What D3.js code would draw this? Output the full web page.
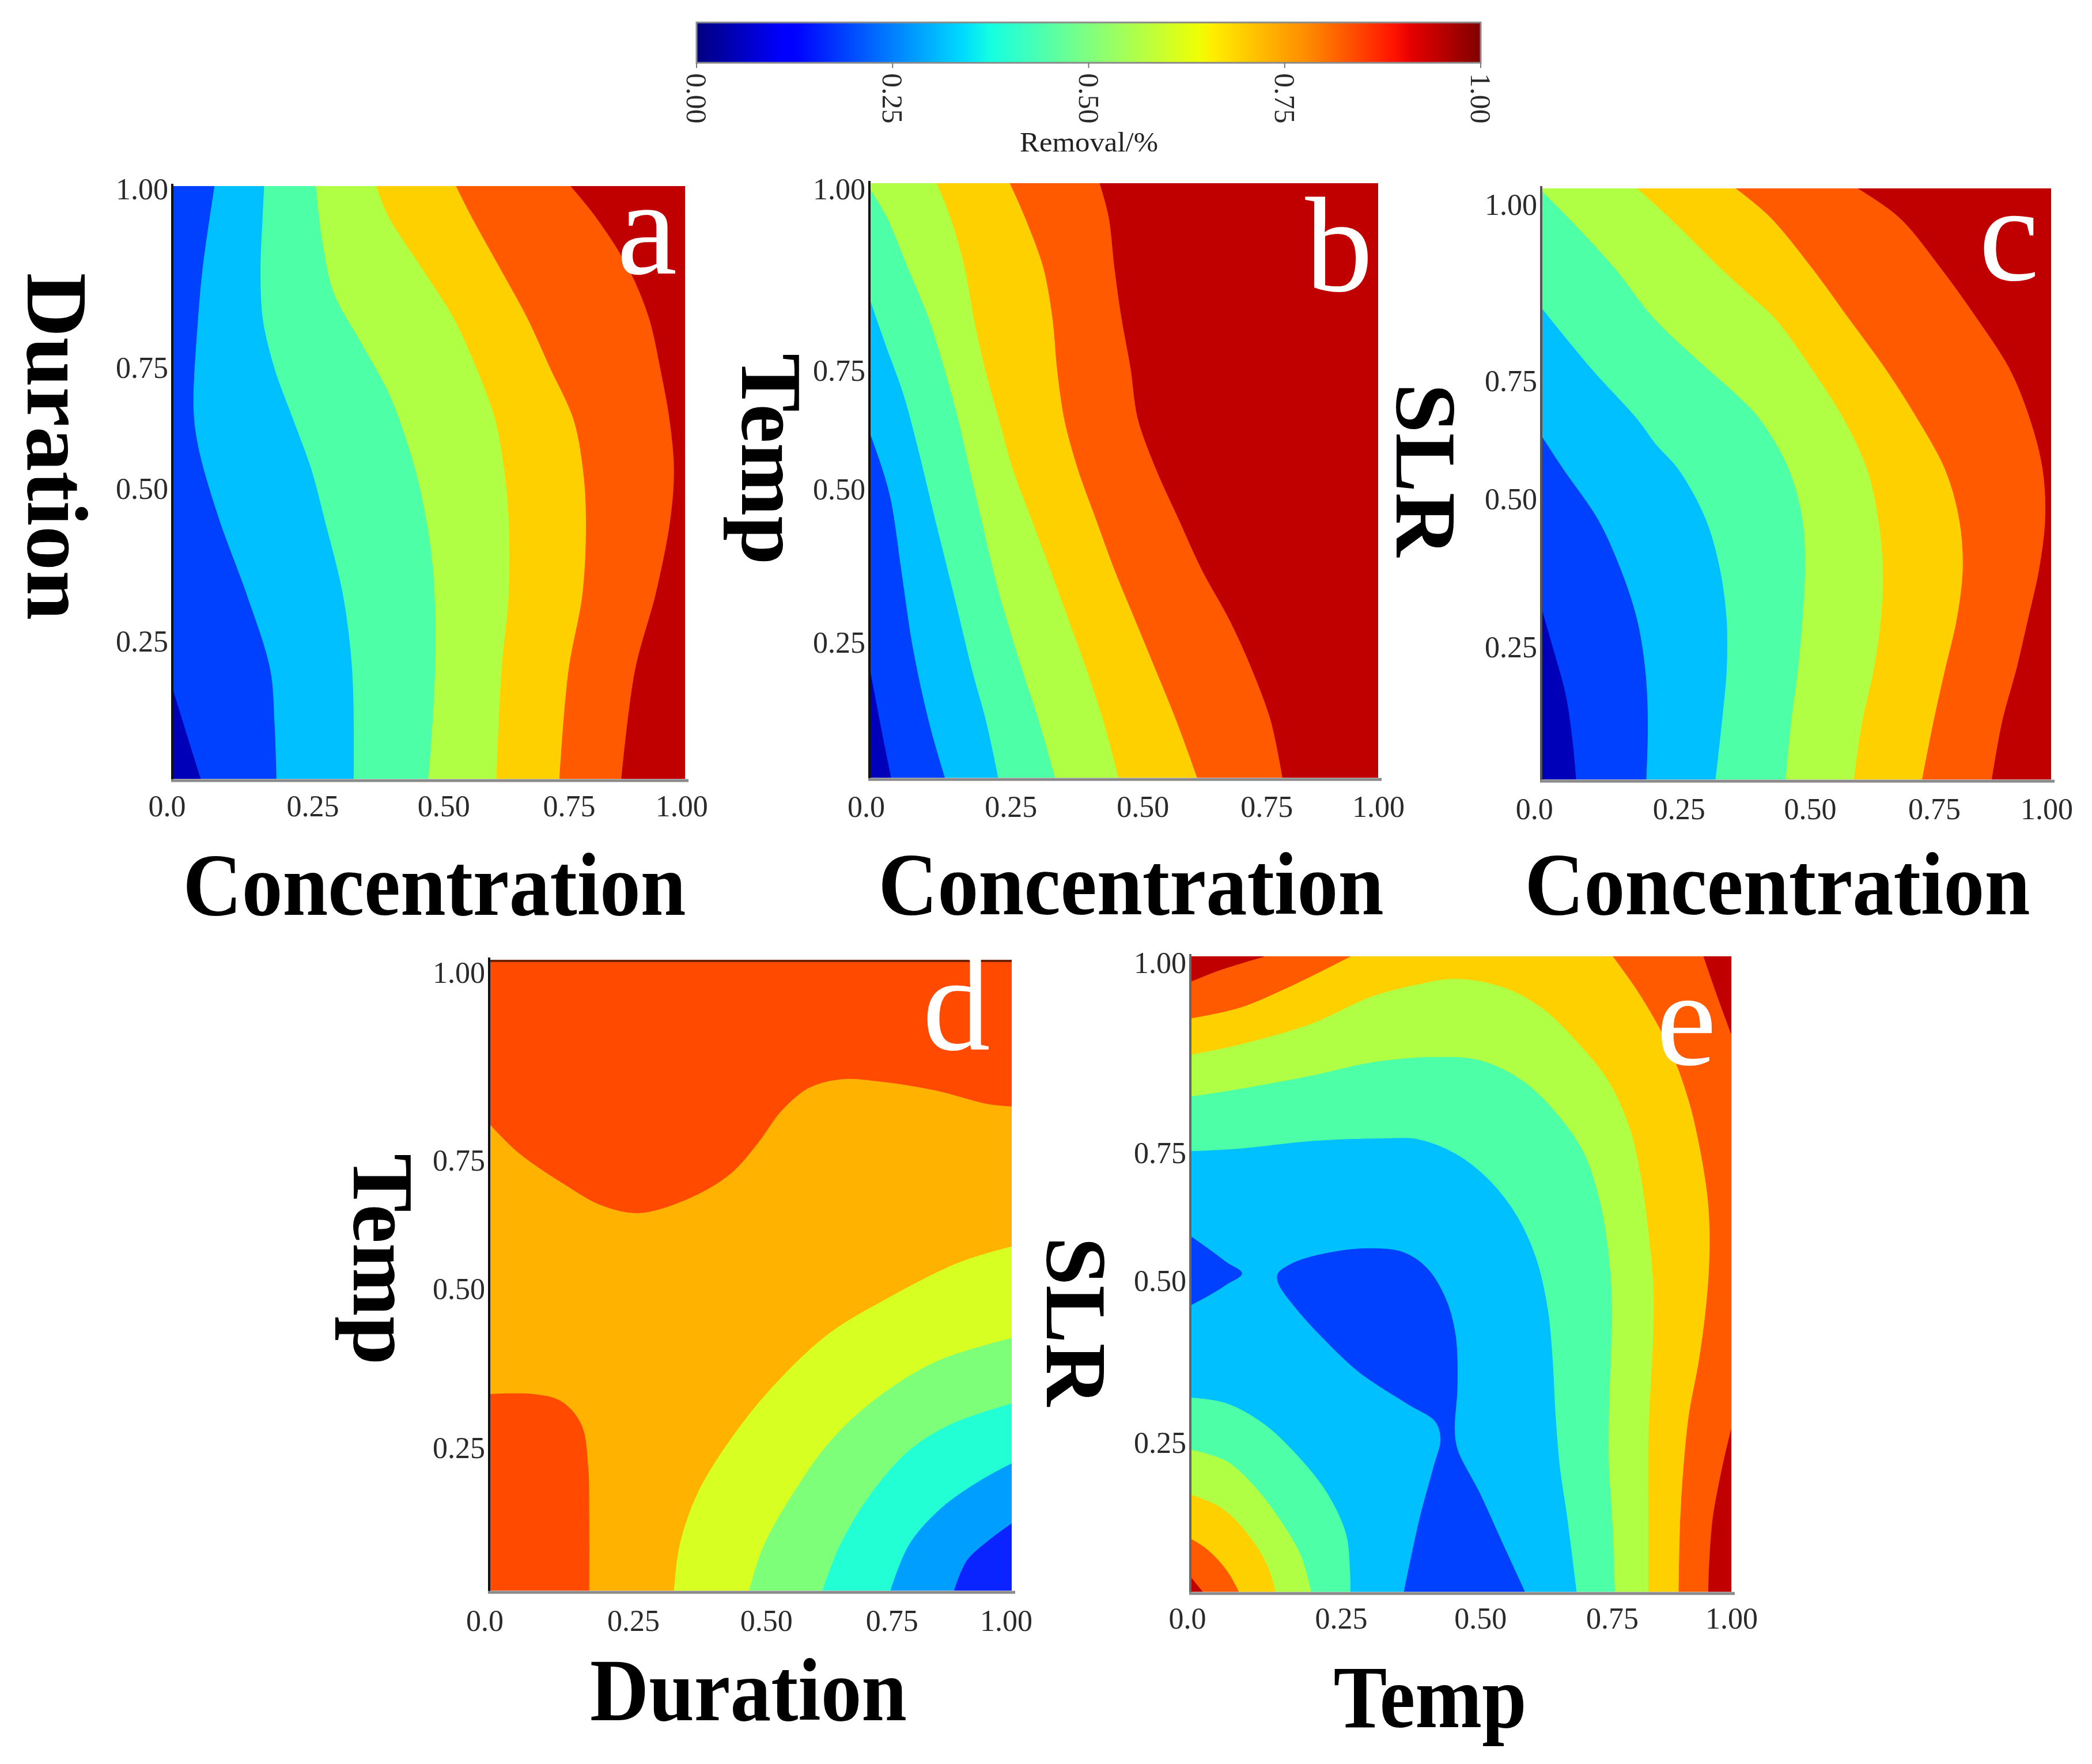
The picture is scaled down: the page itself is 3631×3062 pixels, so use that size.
<!DOCTYPE html>
<html><head><meta charset="utf-8">
<script src="https://cdn.jsdelivr.net/npm/d3@7"></script>
<style>body{margin:0;background:#fff}svg{display:block}</style>
</head><body>
<svg id="chart" width="3631" height="3062"></svg>
<script>
// ---------------- DATA ----------------
// Colour bar
const cbTickValues = [0, 0.25, 0.5, 0.75, 1];
const cbTickLabels = ["0.00", "0.25", "0.50", "0.75", "1.00"];
const cbTitle = "Removal/%";
// Axis ticks (all panels)
const xTickValues = [0, 0.25, 0.5, 0.75, 1];
const xTickLabels = ["0.0", "0.25", "0.50", "0.75", "1.00"];
const yTickValues = [0.25, 0.5, 0.75, 1];
const yTickLabels = ["0.25", "0.50", "0.75", "1.00"];
const panelLetters = ["a", "b", "c", "d", "e"];
const xTitles = ["Concentration", "Concentration", "Concentration", "Duration", "Temp"];
const yTitles = ["Duration", "Temp", "SLR", "Temp", "SLR"];

// Contour boundaries ([x, y] in 0..1), band level on the high/low side
// Panel a (Concentration vs Duration)
const panelA_lines = [
  [[0,0.15],[0.025,0.08],[0.054,0]],
  [[0.081,1],[0.058,0.863],[0.049,0.778],[0.04,0.625],[0.05,0.557],[0.09,0.438],[0.144,0.311],[0.19,0.184],[0.198,0.099],[0.202,0]],
  [[0.178,1],[0.175,0.947],[0.171,0.863],[0.175,0.778],[0.198,0.693],[0.234,0.608],[0.27,0.523],[0.296,0.438],[0.332,0.311],[0.35,0.184],[0.353,0]],
  [[0.279,1],[0.292,0.905],[0.314,0.82],[0.368,0.735],[0.422,0.65],[0.458,0.566],[0.485,0.481],[0.508,0.354],[0.512,0.184],[0.499,0]],
  [[0.397,1],[0.422,0.947],[0.485,0.863],[0.548,0.778],[0.593,0.693],[0.629,0.608],[0.647,0.523],[0.656,0.438],[0.656,0.311],[0.642,0.184],[0.632,0]],
  [[0.553,1],[0.584,0.947],[0.638,0.863],[0.692,0.778],[0.737,0.693],[0.782,0.608],[0.801,0.523],[0.807,0.438],[0.8,0.311],[0.773,0.184],[0.755,0]],
  [[0.777,1],[0.827,0.947],[0.889,0.863],[0.93,0.778],[0.952,0.693],[0.97,0.608],[0.979,0.523],[0.972,0.438],[0.943,0.311],[0.903,0.184],[0.876,0]]
];
const panelA_levels = [1, 2, 3, 4, 5, 6, 7];
const panelA_sides = [-1, -1, -1, -1, -1, -1, -1];
const panelA_base = 0;

// Panel b (Concentration vs Temp)
const panelB_lines = [
  [[0,0.18],[0.02,0.09],[0.041,0]],
  [[0,0.578],[0.038,0.477],[0.061,0.35],[0.083,0.223],[0.115,0.096],[0.147,0]],
  [[0,0.803],[0.029,0.731],[0.065,0.646],[0.092,0.561],[0.128,0.434],[0.165,0.307],[0.201,0.18],[0.228,0.096],[0.252,0]],
  [[0,0.99],[0.033,0.942],[0.074,0.858],[0.115,0.773],[0.146,0.688],[0.173,0.604],[0.196,0.519],[0.219,0.434],[0.255,0.307],[0.3,0.18],[0.332,0.096],[0.364,0]],
  [[0.131,1],[0.158,0.942],[0.186,0.858],[0.204,0.773],[0.226,0.688],[0.253,0.604],[0.281,0.519],[0.318,0.434],[0.355,0.35],[0.391,0.265],[0.427,0.18],[0.459,0.096],[0.489,0]],
  [[0.275,1],[0.305,0.942],[0.341,0.858],[0.359,0.773],[0.368,0.688],[0.382,0.604],[0.409,0.519],[0.445,0.434],[0.481,0.35],[0.522,0.265],[0.563,0.18],[0.603,0.096],[0.644,0]],
  [[0.452,1],[0.47,0.942],[0.481,0.858],[0.495,0.773],[0.513,0.688],[0.527,0.604],[0.563,0.519],[0.608,0.434],[0.653,0.35],[0.708,0.265],[0.753,0.18],[0.789,0.096],[0.812,0]]
];
const panelB_levels = [1, 2, 3, 4, 5, 6, 7];
const panelB_sides = [-1, -1, -1, -1, -1, -1, -1];
const panelB_base = 0;

// Panel c (Concentration vs SLR)
const panelC_lines = [
  [[0,0.287],[0.02,0.227],[0.047,0.142],[0.061,0.057],[0.067,0]],
  [[0,0.58],[0.042,0.525],[0.11,0.44],[0.155,0.355],[0.187,0.27],[0.203,0.185],[0.208,0.1],[0.205,0]],
  [[0,0.797],[0.097,0.695],[0.187,0.61],[0.223,0.568],[0.268,0.525],[0.322,0.44],[0.35,0.355],[0.363,0.27],[0.363,0.185],[0.354,0.1],[0.341,0]],
  [[0,0.995],[0.051,0.951],[0.142,0.866],[0.22,0.78],[0.325,0.695],[0.38,0.653],[0.428,0.61],[0.485,0.525],[0.512,0.44],[0.517,0.355],[0.512,0.27],[0.503,0.185],[0.49,0.1],[0.479,0]],
  [[0.187,1],[0.25,0.951],[0.35,0.866],[0.404,0.823],[0.458,0.78],[0.53,0.695],[0.593,0.61],[0.639,0.525],[0.661,0.44],[0.67,0.355],[0.666,0.27],[0.652,0.185],[0.63,0.1],[0.613,0]],
  [[0.381,1],[0.449,0.951],[0.53,0.866],[0.603,0.78],[0.675,0.695],[0.738,0.61],[0.792,0.525],[0.82,0.44],[0.827,0.355],[0.815,0.27],[0.792,0.185],[0.77,0.1],[0.747,0]],
  [[0.621,1],[0.702,0.951],[0.783,0.866],[0.855,0.78],[0.919,0.695],[0.959,0.61],[0.984,0.525],[0.989,0.44],[0.977,0.355],[0.955,0.27],[0.932,0.185],[0.905,0.1],[0.884,0]]
];
const panelC_levels = [1, 2, 3, 4, 5, 6, 7];
const panelC_sides = [-1, -1, -1, -1, -1, -1, -1];
const panelC_base = 0;

// Panel d (Duration vs Temp) — own 7-band scale
const panelD_lines = [
  [[0,0.739],[0.055,0.694],[0.143,0.644],[0.214,0.611],[0.284,0.599],[0.372,0.619],[0.46,0.661],[0.513,0.71],[0.557,0.76],[0.61,0.797],[0.672,0.811],[0.742,0.808],[0.856,0.793],[0.953,0.772],[1,0.768]],
  [[0,0.311],[0.082,0.311],[0.135,0.3],[0.174,0.263],[0.187,0.197],[0.189,0.114],[0.189,0]],
  [[0.353,0],[0.364,0.073],[0.399,0.156],[0.46,0.238],[0.54,0.321],[0.645,0.404],[0.76,0.462],[0.9,0.52],[1,0.545]],
  [[0.497,0],[0.526,0.073],[0.583,0.156],[0.654,0.238],[0.742,0.305],[0.856,0.363],[1,0.4]],
  [[0.638,0],[0.672,0.073],[0.733,0.156],[0.804,0.222],[0.883,0.263],[1,0.296]],
  [[0.768,0],[0.804,0.073],[0.866,0.131],[0.936,0.172],[1,0.201]],
  [[0.89,0],[0.915,0.048],[0.959,0.081],[1,0.106]]
];
const panelD_levels = [6, 6, 4, 3, 2, 1, 0];
const panelD_sides = [-1, 1, 1, 1, 1, 1, 1];
const panelD_base = 5;

// Panel e (Temp vs SLR)
const panelE_lines = [
  [[0,0.558],[0.035,0.537],[0.065,0.518],[0.093,0.501],[0.065,0.484],[0.035,0.468],[0,0.452]],
  [[0.394,0],[0.423,0.115],[0.449,0.197],[0.462,0.24],[0.452,0.268],[0.4,0.296],[0.312,0.345],[0.25,0.394],[0.197,0.443],[0.162,0.484],[0.16,0.5],[0.188,0.517],[0.259,0.534],[0.33,0.54],[0.392,0.534],[0.436,0.509],[0.471,0.46],[0.489,0.402],[0.492,0.32],[0.487,0.255],[0.493,0.222],[0.533,0.156],[0.577,0.074],[0.617,0]],
  [[0,0.694],[0.091,0.698],[0.224,0.71],[0.356,0.714],[0.418,0.713],[0.489,0.69],[0.551,0.649],[0.604,0.591],[0.639,0.525],[0.661,0.443],[0.67,0.361],[0.675,0.279],[0.683,0.197],[0.697,0.115],[0.714,0]],
  [[0,0.305],[0.065,0.296],[0.135,0.263],[0.197,0.213],[0.25,0.156],[0.286,0.09],[0.293,0.033],[0.294,0]],
  [[0,0.78],[0.091,0.792],[0.224,0.813],[0.33,0.833],[0.445,0.842],[0.533,0.837],[0.613,0.805],[0.675,0.755],[0.728,0.69],[0.759,0.608],[0.774,0.525],[0.78,0.443],[0.777,0.361],[0.774,0.279],[0.774,0.197],[0.78,0.115],[0.785,0]],
  [[0,0.223],[0.065,0.205],[0.118,0.164],[0.162,0.115],[0.202,0.057],[0.221,0]],
  [[0,0.846],[0.091,0.862],[0.224,0.895],[0.33,0.936],[0.418,0.956],[0.489,0.965],[0.577,0.952],[0.648,0.92],[0.71,0.87],[0.772,0.805],[0.812,0.731],[0.834,0.649],[0.847,0.567],[0.856,0.484],[0.856,0.402],[0.851,0.32],[0.847,0.238],[0.847,0.115],[0.847,0]],
  [[0,0.152],[0.056,0.131],[0.104,0.09],[0.14,0.041],[0.155,0]],
  [[0,0.903],[0.091,0.92],[0.18,0.952],[0.25,0.981],[0.294,1]],
  [[0.781,1],[0.834,0.936],[0.887,0.854],[0.922,0.772],[0.944,0.69],[0.958,0.608],[0.96,0.525],[0.953,0.443],[0.94,0.361],[0.922,0.279],[0.912,0.197],[0.906,0.115],[0.903,0]],
  [[0,0.082],[0.029,0.066],[0.065,0.033],[0.087,0]],
  [[0,0.961],[0.047,0.977],[0.091,0.989],[0.135,1]],
  [[0.949,1],[0.975,0.936],[1,0.878]],
  [[1,0.255],[0.984,0.197],[0.966,0.115],[0.959,0.033],[0.958,0]],
  [[0,0.021],[0.02,0]]
];
const panelE_levels = [1, 1, 3, 3, 4, 4, 5, 5, 6, 6, 6, 7, 7, 7, 7];
const panelE_sides = [1, 1, -1, 1, -1, 1, -1, 1, -1, -1, 1, -1, -1, -1, 1];
const panelE_base = 2;

// ---------------- STYLE / LAYOUT ----------------
const palette8 = ["#0000b8", "#0040ff", "#00c0ff", "#4dffa6", "#b0ff45", "#ffd000", "#ff5a00", "#c00000"];
const paletteD = ["#0a24ff", "#009fff", "#22ffd4", "#7dff7a", "#d8ff22", "#ffb300", "#ff4a00"];
const serif = "'Liberation Serif','Times New Roman',serif";

const layout = [
  {box:[301,323,1189,1352], xt:[-0.013,0.272,0.528,0.773,0.993], yt:[0.769,0.511,0.307,0.006], xlab:1.045,
   letter:[1123,475], xT:[754,1588,873], yT:[48,775,603], leftCol:"#111", topLine:null},
  {box:[1511,318,2392,1350], xt:[-0.009,0.276,0.536,0.78,1.0], yt:[0.773,0.515,0.316,0.011], xlab:1.048,
   letter:[2324,505], xT:[1963,1587,877], yT:[1288,797,367], leftCol:"#111", topLine:null},
  {box:[2677,327,3560,1353], xt:[-0.016,0.268,0.526,0.77,0.991], yt:[0.777,0.526,0.326,0.028], xlab:1.049,
   letter:[3487,486], xT:[3085,1587,877], yT:[2424,816,301], leftCol:"#555", topLine:null},
  {box:[851,1666,1756,2761], xt:[-0.011,0.274,0.529,0.77,0.989], yt:[0.774,0.522,0.319,0.021], xlab:1.047,
   letter:[1660,1822], xT:[1299,2986,550], yT:[614,2186,367], leftCol:"#111", topLine:"#6e2200"},
  {box:[2068,1660,3005,2763], xt:[-0.008,0.277,0.535,0.779,1.0], yt:[0.766,0.511,0.31,0.011], xlab:1.041,
   letter:[2927,1848], xT:[2482,2998,335], yT:[1817,2294,294], leftCol:"#666", topLine:null}
];

const panels = [
  {lines:panelA_lines, levels:panelA_levels, sides:panelA_sides, base:panelA_base, palette:palette8},
  {lines:panelB_lines, levels:panelB_levels, sides:panelB_sides, base:panelB_base, palette:palette8},
  {lines:panelC_lines, levels:panelC_levels, sides:panelC_sides, base:panelC_base, palette:palette8},
  {lines:panelD_lines, levels:panelD_levels, sides:panelD_sides, base:panelD_base, palette:paletteD},
  {lines:panelE_lines, levels:panelE_levels, sides:panelE_sides, base:panelE_base, palette:palette8}
];

// ---------------- RENDER ----------------
const svg = d3.select("#chart");
svg.append("rect").attr("width", 3631).attr("height", 3062).attr("fill", "#fff");
const defs = svg.append("defs");

// perimeter parameter: left edge up (0..1), top edge right (1..2), right edge down (2..3), bottom edge left (3..4)
function tOf(p) {
  const e = 1e-6, x = p[0], y = p[1];
  if (x <= e) return y;
  if (y >= 1 - e) return 1 + x;
  if (x >= 1 - e) return 2 + (1 - y);
  return 3 + (1 - x);
}
function pOf(t) {
  t = ((t % 4) + 4) % 4;
  if (t <= 1) return [0, t];
  if (t <= 2) return [t - 1, 1];
  if (t <= 3) return [1, 3 - t];
  return [4 - t, 0];
}
function cornersBetween(tFrom, tTo, dir) {
  const out = [];
  if (dir > 0) {
    let tt = tTo; if (tt < tFrom) tt += 4;
    for (let c = Math.floor(tFrom) + 1; c < tt; c++) out.push(pOf(c));
  } else {
    let tt = tTo; if (tt > tFrom) tt -= 4;
    for (let c = Math.ceil(tFrom) - 1; c > tt; c--) out.push(pOf(c));
  }
  return out;
}

panels.forEach((P, k) => {
  const L = layout[k];
  const [x0, y0, x1, y1] = L.box;
  const W = x1 - x0, H = y1 - y0;
  const x = d3.scaleLinear([0, 1], [x0, x1]);
  const y = d3.scaleLinear([0, 1], [y1, y0]);
  const g = svg.append("g");
  const clipId = "clip" + k;
  defs.append("clipPath").attr("id", clipId).append("rect")
    .attr("x", x0).attr("y", y0).attr("width", W).attr("height", H);
  const pg = g.append("g").attr("clip-path", `url(#${clipId})`);
  pg.append("rect").attr("x", x0).attr("y", y0).attr("width", W).attr("height", H)
    .attr("fill", P.palette[P.base]);
  const line = d3.line().x(d => x(d[0])).y(d => y(d[1])).curve(d3.curveCatmullRom.alpha(0.5));
  P.lines.forEach((pts, i) => {
    const tStart = tOf(pts[0]), tEnd = tOf(pts[pts.length - 1]);
    const cs = cornersBetween(tEnd, tStart, P.sides[i]);
    const d = line(pts) + cs.map(c => `L${x(c[0])},${y(c[1])}`).join("") + "Z";
    const col = P.palette[P.levels[i]];
    pg.append("path").attr("d", d).attr("fill", col).attr("stroke", col).attr("stroke-width", 1.2);
  });

  // axis lines
  if (L.topLine) {
    g.append("line").attr("x1", x0).attr("x2", x1).attr("y1", y0 + 2).attr("y2", y0 + 2)
      .attr("stroke", L.topLine).attr("stroke-width", 4);
  }
  g.append("line").attr("x1", x0 - 2).attr("x2", x0 - 2).attr("y1", y0 - 4).attr("y2", y1 + 3)
    .attr("stroke", L.leftCol).attr("stroke-width", 4);
  g.append("line").attr("x1", x0 - 4).attr("x2", x1 + 6).attr("y1", y1 + 3).attr("y2", y1 + 3)
    .attr("stroke", "#8a8a8a").attr("stroke-width", 5);

  // tick labels via piecewise scales matching the label placement
  const xs = d3.scaleLinear().domain(xTickValues).range(L.xt.map(f => x0 + f * W));
  const ys = d3.scaleLinear().domain(yTickValues).range(L.yt.map(f => y0 + f * H));
  const ax = g.append("g").attr("transform", `translate(0,${y1})`)
    .call(d3.axisBottom(xs).tickValues(xTickValues).tickFormat((d, i) => xTickLabels[i])
      .tickSize(0).tickPadding((L.xlab - 1) * H - 18));
  const ay = g.append("g").attr("transform", `translate(${x0},0)`)
    .call(d3.axisLeft(ys).tickValues(yTickValues).tickFormat((d, i) => yTickLabels[i])
      .tickSize(0).tickPadding(9));
  [ax, ay].forEach(a => {
    a.select(".domain").remove();
    a.attr("font-family", serif).attr("font-size", 52);
    a.selectAll("text").attr("fill", "#2a2a2a");
  });

  // panel letter
  g.append("text").attr("x", L.letter[0]).attr("y", L.letter[1]).attr("text-anchor", "middle")
    .attr("font-family", serif).attr("font-size", 235).attr("fill", "#fff").text(panelLetters[k]);

  // axis titles
  g.append("text").attr("x", L.xT[0]).attr("y", L.xT[1]).attr("text-anchor", "middle")
    .attr("font-family", serif).attr("font-weight", "bold").attr("font-size", 155)
    .attr("textLength", L.xT[2]).attr("lengthAdjust", "spacingAndGlyphs").attr("fill", "#000")
    .text(xTitles[k]);
  g.append("text").attr("transform", `translate(${L.yT[0]},${L.yT[1]}) rotate(90)`)
    .attr("text-anchor", "middle")
    .attr("font-family", serif).attr("font-weight", "bold").attr("font-size", 150)
    .attr("textLength", L.yT[2]).attr("lengthAdjust", "spacingAndGlyphs").attr("fill", "#000")
    .text(yTitles[k]);
});

// ---------------- COLOUR BAR ----------------
const cbX = d3.scaleLinear([0, 1], [1209, 2570]);
const cbY0 = 39, cbY1 = 109;
const jetStops = [[0,"#000080"],[0.11,"#0000ff"],[0.125,"#0000ff"],[0.34,"#00dbff"],[0.375,"#15ffe2"],
  [0.5,"#80ff80"],[0.64,"#eeff04"],[0.66,"#ffec00"],[0.78,"#ff8a00"],[0.89,"#ff1300"],[0.91,"#e80000"],[1,"#800000"]];
const grad = defs.append("linearGradient").attr("id", "jet").attr("x1", "0%").attr("x2", "100%");
jetStops.forEach(s => grad.append("stop").attr("offset", s[0]).attr("stop-color", s[1]));
svg.append("rect").attr("x", cbX(0)).attr("y", cbY0).attr("width", cbX(1) - cbX(0)).attr("height", cbY1 - cbY0)
  .attr("fill", "url(#jet)").attr("stroke", "#8a8a8a").attr("stroke-width", 3);
const cbg = svg.append("g");
cbg.selectAll("line").data(cbTickValues).join("line")
  .attr("x1", d => cbX(d)).attr("x2", d => cbX(d)).attr("y1", cbY1).attr("y2", cbY1 + 9)
  .attr("stroke", "#777").attr("stroke-width", 2);
cbg.selectAll("text").data(cbTickValues).join("text")
  .attr("transform", d => `translate(${cbX(d)},${cbY1 + 18}) rotate(90)`)
  .attr("dominant-baseline", "central")
  .attr("font-family", serif).attr("font-size", 50).attr("fill", "#2a2a2a")
  .text((d, i) => cbTickLabels[i]);
svg.append("text").attr("x", 1890).attr("y", 263).attr("text-anchor", "middle")
  .attr("font-family", serif).attr("font-size", 48).attr("textLength", 240)
  .attr("lengthAdjust", "spacingAndGlyphs").attr("fill", "#222").text(cbTitle);
</script>
</body></html>
